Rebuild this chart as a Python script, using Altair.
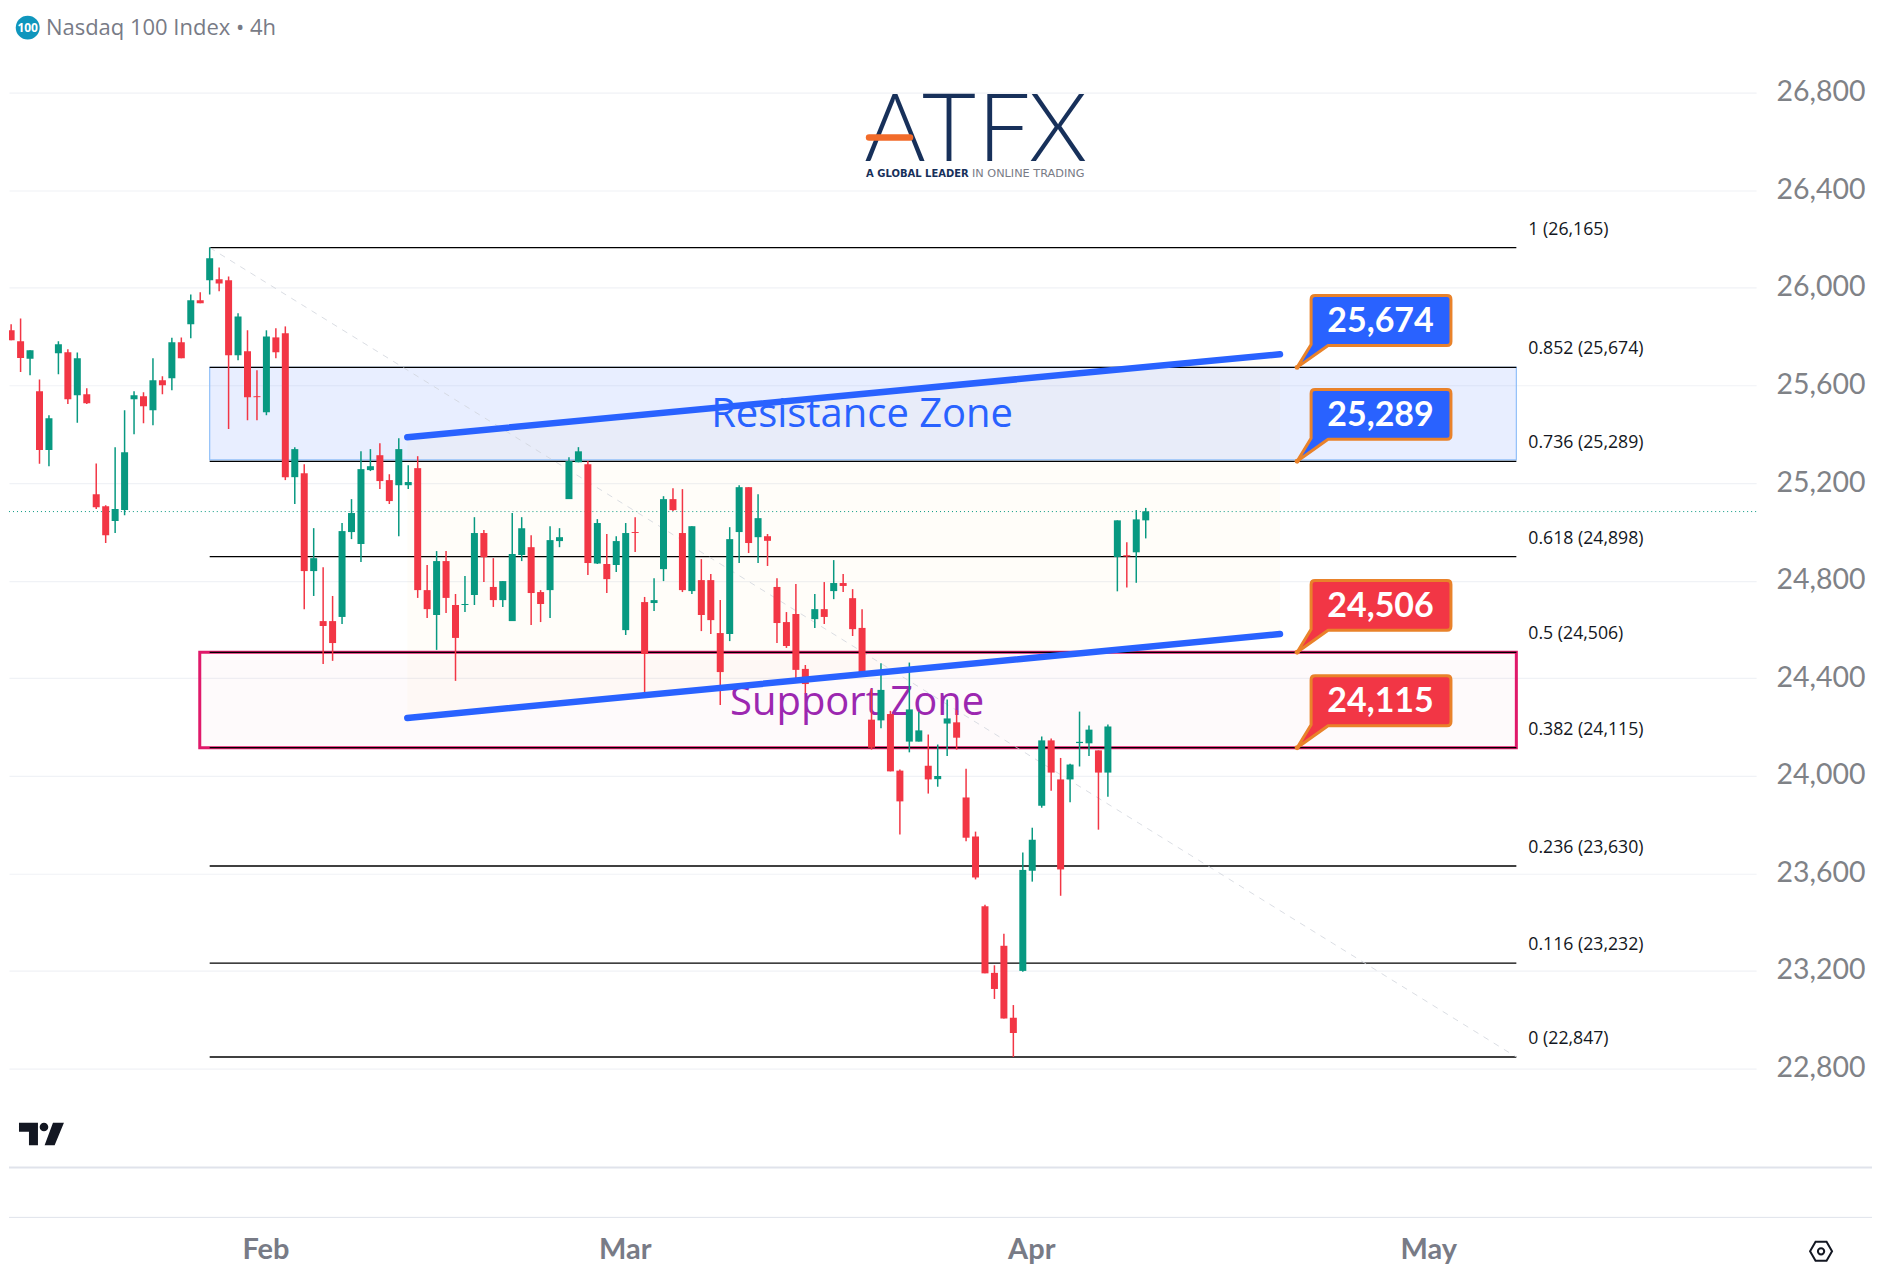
import altair as alt
import pandas as pd

# candles
opens = [25612, 25826, 25781, 25709, 25576, 25335, 25732, 25736, 25560, 25564,
         25154, 25105, 25044, 25089, 25543, 25556, 25498, 25621, 25629, 25777,
         25851, 25949, 26031, 26035, 26031, 25724, 25740, 25556, 25490, 25797,
         25814, 25224, 25240, 24839, 24634, 24634, 24651, 24999, 24950, 25253,
         25314, 25212, 25191, 25191, 25261, 24761, 24659, 24880, 24700, 24700,
         24741, 24995, 24774, 24720, 24634, 24905, 24937, 24753, 24761, 24962,
         25134, 25285, 25277, 24870, 24868, 24864, 24597, 24999, 24712, 24708,
         24847, 25134, 24995, 24757, 24802, 24802, 24585, 24581, 24999, 25183,
         24978, 24982, 24774, 24630, 24663, 24438, 24642, 24683, 24757, 24790,
         24728, 24606, 24230, 24227, 24253, 24021, 24140, 24140, 24041, 23986,
         24214, 24219, 23911, 23751, 23465, 23192, 23303, 23008, 23200, 23611,
         23877, 24145, 23985, 23985, 24134, 24133, 24104, 24013, 24897, 24904,
         24916, 25047]
closes = [25829, 25785, 25713, 25744, 25335, 25466, 25769, 25543, 25711, 25527,
          25101, 24986, 25093, 25326, 25560, 25515, 25621, 25601, 25777, 25711,
          25949, 25937, 26121, 26018, 25724, 25883, 25552, 25552, 25801, 25736,
          25224, 25339, 24839, 24892, 24614, 24544, 25003, 25077, 25257, 25269,
          25208, 25126, 25339, 25204, 24761, 24683, 24880, 24729, 24565, 24704,
          24995, 24896, 24720, 24798, 24909, 25015, 24749, 24704, 24966, 24978,
          25290, 25330, 24872, 25036, 24806, 24962, 24995, 24995, 24499, 24720,
          25134, 25089, 24761, 25023, 24659, 24638, 24425, 24970, 25183, 24954,
          25056, 24963, 24626, 24532, 24434, 24376, 24683, 24651, 24790, 24778,
          24601, 24420, 24115, 24352, 24018, 23895, 24272, 24186, 23985, 23999,
          24235, 24156, 23746, 23583, 23190, 23126, 23005, 22945, 23614, 23738,
          24145, 24013, 23616, 24046, 24139, 24189, 24013, 24202, 25047, 24899,
          25051, 25084]
highs = [25829, 25851, 25874, 25744, 25624, 25478, 25781, 25748, 25735, 25588,
         25280, 25109, 25347, 25498, 25576, 25572, 25711, 25638, 25796, 25797,
         25973, 25982, 26165, 26084, 26047, 25896, 25826, 25662, 25826, 25834,
         25842, 25347, 25277, 25015, 24855, 24737, 25036, 25134, 25330, 25339,
         25363, 25236, 25384, 25273, 25310, 24864, 24921, 24921, 24745, 24819,
         25060, 25007, 24892, 24798, 25077, 25060, 24986, 24761, 25023, 25015,
         25306, 25347, 25290, 25052, 24991, 24982, 25036, 25060, 24733, 24810,
         25146, 25179, 25175, 25023, 24888, 24827, 24720, 25019, 25191, 25183,
         25154, 24991, 24810, 24671, 24786, 24454, 24745, 24794, 24884, 24827,
         24765, 24683, 24356, 24461, 24266, 24026, 24464, 24261, 24169, 24128,
         24313, 24269, 24029, 23771, 23471, 23223, 23352, 23060, 23685, 23787,
         24161, 24153, 24073, 24049, 24263, 24206, 24104, 24210, 25047, 24957,
         25089, 25098]
lows = [25605, 25785, 25655, 25642, 25279, 25269, 25646, 25524, 25447, 25524,
        25094, 24954, 24995, 25068, 25400, 25445, 25437, 25564, 25580, 25711,
        25793, 25937, 25973, 25986, 25421, 25703, 25457, 25457, 25478, 25711,
        25212, 25114, 24683, 24737, 24458, 24471, 24622, 24970, 24876, 25249,
        25175, 25114, 24982, 25175, 24729, 24647, 24516, 24667, 24389, 24671,
        24700, 24794, 24692, 24692, 24634, 24880, 24618, 24630, 24647, 24937,
        25134, 25285, 24823, 24868, 24749, 24835, 24577, 24917, 24323, 24675,
        24798, 25085, 24753, 24745, 24593, 24581, 24290, 24552, 24872, 24913,
        24872, 24860, 24544, 24524, 24380, 24338, 24606, 24622, 24724, 24753,
        24573, 24417, 24107, 24195, 24018, 23759, 24096, 24140, 23927, 23955,
        24081, 24107, 23732, 23575, 23190, 23085, 23005, 22847, 23197, 23566,
        23869, 23939, 23508, 23891, 24038, 24081, 23779, 23914, 24756, 24772,
        24791, 24973]

last_price = 25083

price_ticks = [22800, 23200, 23600, 24000, 24400, 24800, 25200, 25600, 26000, 26400, 26800]
month_names = ["Feb", "Mar", "Apr", "May"]
month_bars = [28, 66, 109, 151]

fib_levels = ["1", "0.852", "0.736", "0.618", "0.5", "0.382", "0.236", "0.116", "0"]
fib_prices = [26165, 25674, 25289, 24898, 24506, 24115, 23630, 23232, 22847]
fib_start = 22
fib_end = 160.2

callout_prices = [25674, 25289, 24506, 24115]
callout_sides = ["resistance", "resistance", "support", "support"]

channel_bars = [42.9, 135.2]
channel_upper = [25388, 25728]
channel_lower = [24237, 24581]

diag_bars = [22, 160.2]
diag_prices = [26165, 22847]

zone_names = ["resistance", "support"]
zone_tops = [25674, 24506]
zone_bottoms = [25295, 24115]
zone_starts = [22, 20.95]

GREEN = "#089981"
RED = "#f23645"
BLUE = "#2962ff"
ORANGE = "#e9822a"
NAVY = "#17305a"
GREY = "#787b86"

x_scale = alt.Scale(domain=[0.7744, 185.56], nice=False, zero=False, padding=0)
y_scale = alt.Scale(domain=[22394.4, 27144.5], nice=False, zero=False)

label_expr = " : ".join(f"datum.value == {b} ? '{n}'" for b, n in zip(month_bars, month_names)) + " : ''"
x_axis = alt.Axis(title=None, values=month_bars, labelExpr=label_expr, grid=False, domain=False, ticks=False,
                  labelPadding=82, labelBaseline="middle", labelFontSize=29, labelFont="Lato",
                  labelFontWeight=700, labelColor=GREY, labelFlush=False, labelOffset=-1)
y_axis = alt.Axis(title=None, orient="right", values=price_ticks, labelExpr="format(datum.value, ',')",
                  grid=True, gridColor="#f0f2f6",
                  gridWidth=1.2, domain=False, ticks=False, labelPadding=20, labelAlign="left",
                  labelFontSize=28.5, labelFont="Lato", labelColor="#7f8287", labelOffset=-1)


def xq(field):
    return alt.X(field, type="quantitative", scale=x_scale, axis=x_axis)


def yq(field):
    return alt.Y(field, type="quantitative", scale=y_scale, axis=y_axis)


candles = pd.DataFrame({"bar": range(len(opens)), "open": opens, "close": closes,
                        "high": highs, "low": lows})
up_down = alt.condition("datum.close >= datum.open", alt.value(GREEN), alt.value(RED))

wicks = alt.Chart(candles).mark_rule(strokeWidth=1.5, clip=True).encode(
    x=xq("bar"), y=yq("low"), y2="high:Q", color=up_down,
)
bodies = alt.Chart(candles).mark_bar(size=7, clip=True).encode(
    x=xq("bar"), y=yq("open"), y2="close:Q", color=up_down,
)

channel = alt.Chart(pd.DataFrame({"bar": channel_bars, "upper": channel_upper, "lower": channel_lower}))
channel_fill = channel.mark_area(color="#ffb74d", opacity=0.03).encode(
    x=xq("bar"), y=yq("upper"), y2="lower:Q",
)
channel_top = channel.mark_line(color=BLUE, strokeWidth=6.5, strokeCap="round").encode(
    x=xq("bar"), y=yq("upper"),
)
channel_bottom = channel.mark_line(color=BLUE, strokeWidth=6.5, strokeCap="round").encode(
    x=xq("bar"), y=yq("lower"),
)

zones = pd.DataFrame({"name": zone_names, "top": zone_tops, "bottom": zone_bottoms,
                      "start": zone_starts, "end": fib_end})
resistance_box = alt.Chart(zones[zones.name == "resistance"]).mark_rect(
    fill=BLUE, fillOpacity=0.11, stroke="#90bff9", strokeWidth=1.2).encode(
    x=xq("start"), x2="end:Q", y=yq("top"), y2="bottom:Q",
)
support_box = alt.Chart(zones[zones.name == "support"]).mark_rect(
    fill="#e91e63", fillOpacity=0.025, stroke="#e0196a", strokeWidth=3).encode(
    x=xq("start"), x2="end:Q", y=yq("top"), y2="bottom:Q",
)

fib = pd.DataFrame({"level": fib_levels, "price": fib_prices, "start": fib_start, "end": fib_end})
fib["label"] = [f"{l} ({p:,})" for l, p in zip(fib_levels, fib_prices)]
fib_lines = alt.Chart(fib).mark_rule(color="#000000", strokeWidth=1.3).encode(
    x=xq("start"), x2="end:Q", y=yq("price"),
)
fib_text = alt.Chart(fib).mark_text(align="left", dy=-18, font="Open Sans", fontSize=17.7, color="#131722").encode(
    x=alt.value(1521),
    y=yq("price"),
    text="label:N",
)

diagonal = alt.Chart(pd.DataFrame({"bar": diag_bars, "price": diag_prices})).mark_line(
    color="#d1d4dc", strokeWidth=1, strokeDash=[6, 6], opacity=0.8).encode(
    x=xq("bar"), y=yq("price"),
)

last_line = alt.Chart(pd.DataFrame({"price": [last_price]})).mark_rule(
    color=GREEN, strokeWidth=1, strokeDash=[1, 3]).encode(
    y=yq("price"),
)

# callout: tip at the origin, box up and to the right
CALLOUT = ("M0,0 L14,-23 L14,-68 Q14,-72 18,-72 L150,-72 Q154,-72 154,-68 L154,-26 "
           "Q154,-22 150,-22 L31,-22 Z")
callouts = pd.DataFrame({"price": callout_prices, "side": callout_sides})
callouts["label"] = [f"{p:,}" for p in callout_prices]
side_fill = alt.Fill("side:N", scale=alt.Scale(domain=["resistance", "support"], range=[BLUE, RED]), legend=None)
callout_box = alt.Chart(callouts).mark_point(shape=CALLOUT, size=4, filled=True, opacity=1,
                                             stroke=ORANGE, strokeWidth=3, strokeJoin="round").encode(
    x=alt.value(1289.5),
    y=yq("price"),
    fill=side_fill,
)
callout_dot = alt.Chart(callouts).mark_circle(size=24, color=ORANGE, opacity=1).encode(
    x=alt.value(1289.5),
    y=yq("price"),
)
callout_text = alt.Chart(callouts).mark_text(dy=-45.5, font="Lato", fontWeight=700, fontSize=34, color="white").encode(
    x=alt.value(1373),
    y=yq("price"),
    text="label:N",
)

one_row = pd.DataFrame({"a": [0]})


def note(text, x, y, **style):
    return alt.Chart(one_row).mark_text(**style).encode(x=alt.value(x), y=alt.value(y), text=alt.value(text))


def hline(y, width, color):
    return alt.Chart(one_row).mark_rule(color=color, strokeWidth=width).encode(
        x=alt.value(0), x2=alt.value(1865), y=alt.value(y))


icon = alt.Chart(one_row).mark_circle(size=572, color="#0f96bd", opacity=1).encode(x=alt.value(18.7), y=alt.value(19))

logo_bar = alt.Chart(one_row).mark_rule(color="#f26b2a", strokeWidth=6.5, strokeCap="round").encode(
    x=alt.value(861), x2=alt.value(902), y=alt.value(129))

TV_LOGO = ("M-.5,-.252 L-.078,-.252 L-.078,.252 L-.278,.252 L-.278,-.052 L-.5,-.052 Z "
           "M-.04,-.156 A.096,.096 0 1 1 .152,-.156 A.096,.096 0 1 1 -.04,-.156 Z "
           "M.256,-.252 L.5,-.252 L.293,.252 L.07,.252 Z")
tv_logo = alt.Chart(one_row).mark_point(shape=TV_LOGO, size=8100, filled=True, opacity=1, color="#131722").encode(
    x=alt.value(32.5), y=alt.value(1126.5))

GEAR_HEX = "M-5.5,-9.5 L5.5,-9.5 L11,0 L5.5,9.5 L-5.5,9.5 L-11,0 Z"
gear_hex = alt.Chart(one_row).mark_point(shape=GEAR_HEX, size=4, filled=False, opacity=1, color="#131722",
                                         strokeWidth=2).encode(x=alt.value(1814), y=alt.value(1244))
gear_dot = alt.Chart(one_row).mark_circle(size=40, filled=False, opacity=1, color="#131722", strokeWidth=2).encode(
    x=alt.value(1814), y=alt.value(1244))

logo_style = dict(font="Lato", fontWeight=300, fontSize=94, color=NAVY, baseline="alphabetic", align="center")

chart = alt.layer(
    channel_fill,
    resistance_box,
    support_box,
    fib_lines,
    diagonal,
    last_line,
    note("Resistance Zone", 854, 407, font="Open Sans", fontSize=40, color=BLUE),
    note("Support Zone", 849, 695, font="Open Sans", fontSize=40, color="#9c27b0"),
    wicks,
    bodies,
    channel_top,
    channel_bottom,
    callout_box,
    callout_dot,
    callout_text,
    fib_text,
    hline(1160, 2, "#e0e3eb"),
    hline(1210, 1, "#e0e3eb"),
    icon,
    note("100", 18.7, 19, font="Open Sans", fontWeight=700, fontSize=12, color="white"),
    note("Nasdaq 100 Index • 4h", 37, 19, font="Open Sans", fontSize=22, color=GREY, align="left"),
    note("A", 887, 152, **logo_style),
    note("T", 941, 152, **logo_style),
    note("F", 996, 152, **logo_style),
    note("X", 1050, 152, **logo_style),
    logo_bar,
    note("A GLOBAL LEADER", 858, 166, font="DejaVu Sans", fontWeight=700, fontSize=10, color=NAVY, align="left"),
    note("IN ONLINE TRADING", 964, 166, font="DejaVu Sans", fontSize=11.3, color=GREY, align="left"),
    tv_logo,
    gear_hex,
    gear_dot,
).properties(
    width=1749,
    height=1160,
    padding=0,
    background="white",
).configure_view(
    strokeWidth=0
)

chart.save("out.html", embed_options={"renderer": "svg", "actions": False})
